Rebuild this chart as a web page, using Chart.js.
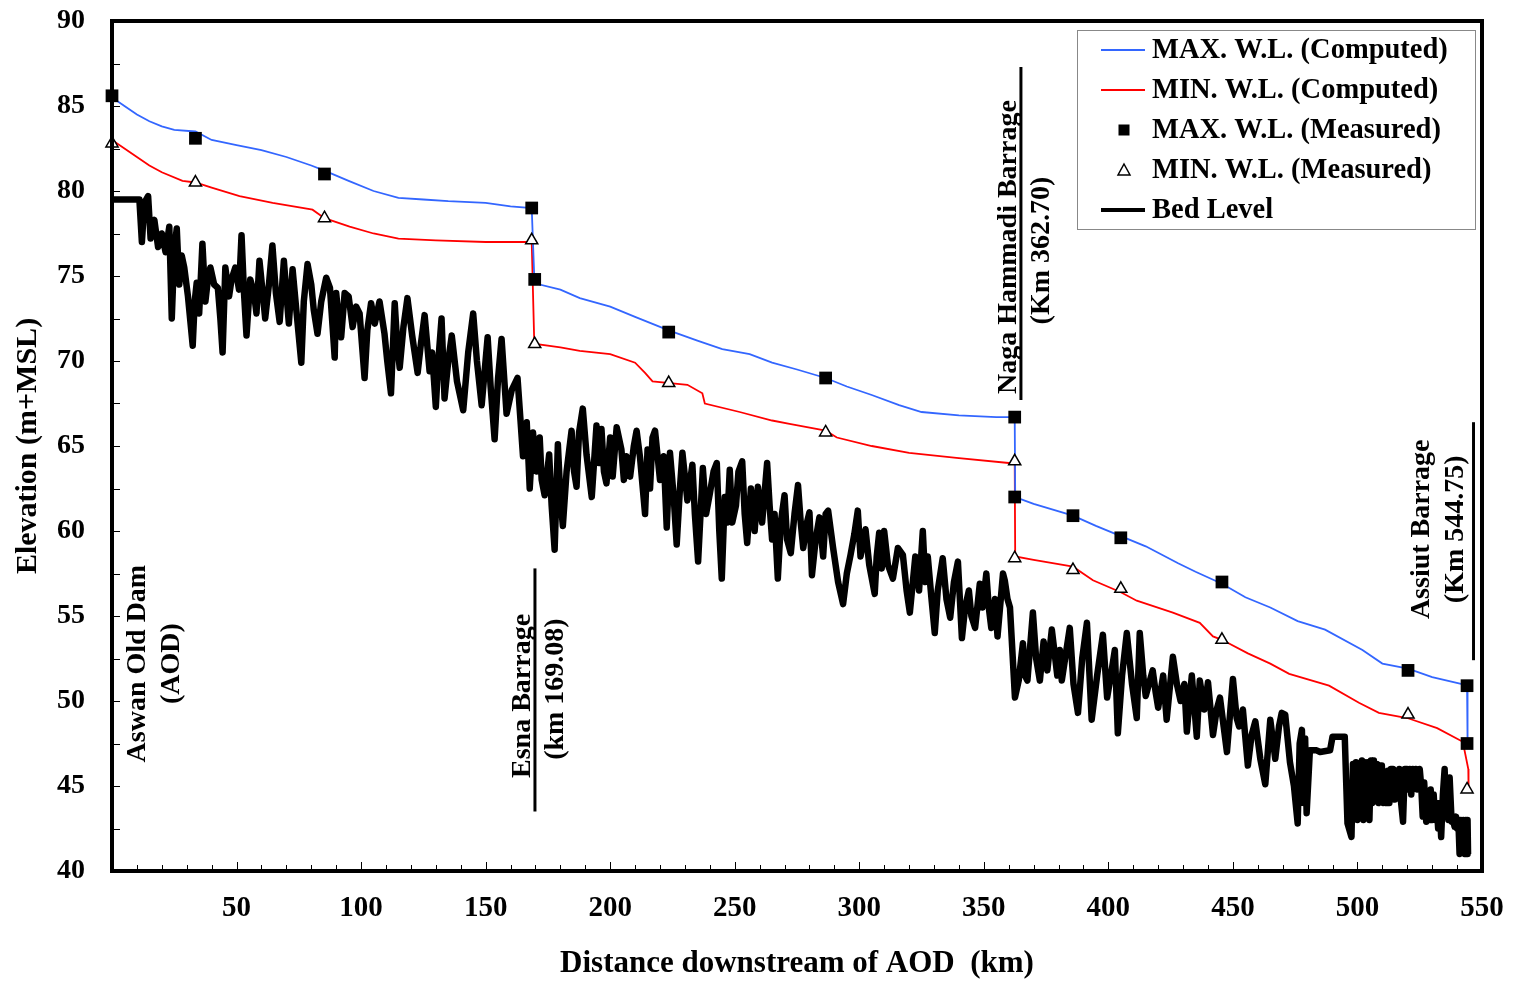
<!DOCTYPE html>
<html>
<head>
<meta charset="utf-8">
<script src="https://cdn.jsdelivr.net/npm/chart.js@4.4.0/dist/chart.umd.min.js"></script>
<style>
  html, body { margin: 0; padding: 0; background: #fff; }
  #wrap { width: 1513px; height: 984px; }
</style>
</head>
<body>
<div id="wrap"><canvas id="myChart" width="1513" height="984"></canvas></div>
<script>
// measured stations (km downstream of AOD)
const measuredKm = [0, 33.5, 85.3, 168.5, 169.7, 223.5, 286.5, 362.4, 362.4, 385.8, 405, 445.6, 520.3, 544, 544];
const measuredMax = [85.6, 83.1, 81.0, 79.0, 74.8, 71.7, 69.0, 66.7, 62.0, 60.9, 59.6, 57.0, 51.8, 50.9, 47.5];
const measuredMin = [82.8, 80.5, 78.4, 77.1, 71.0, 68.7, 65.8, 64.1, 58.4, 57.7, 56.6, 53.6, 49.2, 44.8, null];

// computed water levels [km, elevation]
const computedMax = [
  [0, 85.5], [5, 85.0], [10, 84.5], [15, 84.1], [20, 83.8], [25, 83.6], [33.5, 83.5], [40, 83.0],
  [50, 82.7], [60, 82.4], [70, 82.0], [80, 81.5], [85.3, 81.2], [95, 80.6], [105, 80.0], [115, 79.6],
  [125, 79.5], [135, 79.4], [150, 79.3], [160, 79.1], [168.5, 79.0], [169.5, 75.0], [171.7, 74.5],
  [180, 74.2], [187.8, 73.7], [200, 73.2], [210, 72.6], [223.5, 71.8], [235, 71.2], [245, 70.7],
  [256, 70.4], [265, 69.9], [275, 69.5], [286.5, 69.0], [295, 68.5], [305, 68.0], [316, 67.4],
  [325, 67.0], [340, 66.8], [355, 66.7], [362.4, 66.7], [362.6, 62.0], [370, 61.6], [385.8, 60.9],
  [395, 60.3], [405, 59.7], [415, 59.1], [428, 58.1], [435, 57.6], [445.6, 56.9], [455, 56.1],
  [465, 55.5], [476, 54.7], [487, 54.2], [502, 53.0], [510, 52.2], [520.3, 51.9], [530, 51.4],
  [542, 51.0], [544, 50.9], [544.2, 47.6]
];
const computedMin = [
  [0, 83.0], [5, 82.5], [10, 82.0], [15, 81.5], [20, 81.1], [28.3, 80.6], [33.5, 80.5], [40, 80.2],
  [51.2, 79.7], [64.5, 79.3], [80.5, 78.9], [85.3, 78.4], [95.4, 77.9], [105, 77.5], [115, 77.2],
  [130, 77.1], [150, 77.0], [168.5, 77.0], [169.5, 71.2], [170, 71.0], [180, 70.8], [187.8, 70.6],
  [200, 70.4], [210, 69.9], [214, 69.3], [217, 68.8], [224, 68.7], [231, 68.6], [237, 68.1],
  [238, 67.5], [252, 67.0], [265, 66.5], [272, 66.3], [286.5, 65.9], [291, 65.5], [305, 65.0],
  [320, 64.6], [339, 64.3], [360, 64.0], [362.4, 64.0], [362.6, 58.5], [370, 58.3], [385.8, 57.9],
  [393.8, 57.1], [405, 56.4], [411.4, 55.9], [425.9, 55.2], [436.7, 54.6], [442, 53.8], [445.6, 53.6],
  [456, 52.8], [465, 52.2], [472.6, 51.6], [488.6, 50.9], [500.6, 49.9], [508.6, 49.3], [520, 49.0],
  [532, 48.4], [542.3, 47.6], [544.5, 46.0], [544.6, 44.8]
];

// bed level [km, elevation]
const bedLevel = [
  [0, 79.5], [11, 79.5], [12, 77.0], [13, 79.3], [14.5, 79.7], [15.5, 77.2], [17, 78.3], [18.5, 76.7],
  [20, 77.5], [21.5, 76.4], [23, 77.9], [24, 72.5], [25, 76.5], [26, 77.8], [27, 74.5], [28, 76.2],
  [29, 75.5], [30.5, 73.8], [32.4, 70.9], [33.2, 73.5], [34, 74.6], [35, 72.8], [36.3, 76.9],
  [37.5, 73.5], [38.5, 74.8], [39.5, 75.5], [41, 74.5], [42.5, 74.3], [43.5, 72.5], [44.4, 70.5],
  [45.5, 75.5], [47, 73.8], [48, 74.8], [49.5, 75.5], [51, 74.2], [52, 77.4], [53, 74.0], [54, 71.5],
  [55.5, 74.8], [57, 74.0], [58, 72.8], [59.2, 75.9], [60.5, 74.0], [61.5, 72.5], [63, 74.5],
  [64.4, 76.8], [65.8, 74.0], [67.3, 72.3], [69, 75.9], [70, 74.0], [71, 72.2], [72.5, 75.4],
  [74, 73.0], [76, 69.9], [77, 73.5], [78.5, 75.7], [80, 74.5], [81, 73.0], [82.5, 71.6], [84, 73.5],
  [86, 74.9], [87.5, 74.3], [89.4, 70.2], [90, 74.0], [91, 72.5], [92, 71.4], [93.4, 74.0],
  [95, 73.8], [96.6, 72.0], [98, 73.2], [99.4, 72.8], [101.4, 69.0], [102.5, 71.8], [104, 73.4],
  [105.5, 72.2], [107.4, 73.5], [109.4, 71.6], [110.5, 70.0], [112, 68.1], [113.5, 73.4],
  [114.5, 71.0], [115.5, 69.6], [117, 72.0], [118.6, 73.7], [120.5, 71.5], [122.7, 69.3],
  [124, 71.0], [125.5, 72.7], [127.5, 69.4], [128.5, 70.5], [130, 67.3], [131, 70.0], [132.3, 72.5],
  [133.5, 67.8], [135, 70.0], [136.4, 71.5], [138.5, 68.8], [141, 67.1], [143, 70.5], [145, 72.8],
  [146.5, 70.0], [148.4, 67.4], [150.8, 71.4], [152, 68.5], [153.6, 65.4], [155, 69.0],
  [156.4, 71.3], [158.4, 66.9], [160.5, 68.3], [162.8, 69.0], [164, 66.5], [165, 64.4],
  [166.5, 66.4], [167.7, 62.5], [169, 65.8], [170.5, 63.5], [171.7, 65.5], [172.5, 63.0],
  [173.7, 62.1], [175.5, 64.5], [176.5, 61.5], [177.7, 58.9], [179, 65.1], [180, 62.0], [181, 60.3],
  [182.5, 63.5], [184.5, 65.9], [185.5, 63.5], [186.5, 62.6], [187.5, 65.8], [189, 67.2],
  [190.5, 64.5], [192.6, 62.0], [194.5, 66.2], [195.5, 64.0], [196.5, 66.0], [197.5, 63.5],
  [198.5, 62.8], [200, 65.5], [201, 63.2], [202.6, 66.1], [204.5, 64.8], [205.5, 63.0],
  [206.5, 64.4], [208, 63.2], [209.5, 65.0], [210.6, 65.9], [212, 64.3], [214, 61.0], [215, 64.8],
  [216, 62.5], [217, 65.5], [218, 65.9], [220, 63.0], [221.5, 64.4], [222.7, 60.2], [224, 64.6],
  [225.5, 62.0], [226.7, 59.2], [228, 62.5], [229, 64.6], [231, 61.8], [233, 63.9], [234, 61.0],
  [235.3, 58.2], [237.2, 63.7], [238.5, 61.0], [240, 62.2], [241.5, 63.5], [242.8, 64.0],
  [243.8, 60.0], [244.8, 57.2], [246, 62.0], [247, 60.5], [248, 63.6], [249, 60.5], [250.5, 61.5],
  [251.5, 63.5], [253, 64.1], [254, 61.0], [255, 59.3], [256.5, 62.5], [258, 60.0], [259.3, 62.6],
  [261, 60.5], [263, 64.0], [264, 61.5], [265, 59.5], [266, 61.0], [267.3, 57.2], [268.5, 60.5],
  [270, 62.1], [271, 59.5], [272.5, 58.7], [274, 61.0], [275.4, 62.7], [276.5, 60.5], [277.5, 59.0],
  [279, 60.5], [280, 61.1], [281, 57.4], [282.5, 59.5], [284, 60.8], [285.5, 58.5], [286.5, 61.0],
  [287.5, 61.2], [289.5, 59.0], [291.5, 57.0], [293.5, 55.7], [295, 57.5], [296.5, 58.6],
  [298, 59.8], [299.4, 61.2], [300.5, 58.5], [302.5, 60.1], [304, 58.0], [306.2, 56.3], [307, 58.5],
  [308, 59.9], [309, 57.8], [310, 60.0], [311.5, 58.0], [313.5, 57.2], [315.5, 59.0], [317.5, 58.6],
  [319, 56.5], [320.3, 55.2], [321.5, 57.0], [322.5, 58.5], [324, 56.5], [325.5, 60.0], [326.5, 57.0],
  [327.5, 58.5], [329, 56.0], [330.3, 54.0], [331.5, 56.5], [333.5, 58.4], [335, 56.0], [336.5, 54.9],
  [338, 57.0], [339.6, 58.2], [341.2, 53.7], [342.5, 55.5], [344, 56.5], [345, 55.0], [346.5, 54.3],
  [348.4, 56.9], [349.5, 55.5], [351, 57.5], [352, 55.5], [353, 54.3], [354.5, 56.0], [355.5, 53.8],
  [357.7, 57.5], [358.4, 57.1], [359.5, 56.0], [360.5, 55.5], [362.5, 50.2], [364, 51.2],
  [365.7, 53.4], [366.5, 51.5], [367.5, 51.2], [369.7, 55.2], [371, 52.5], [372.5, 51.2],
  [374, 53.5], [375.5, 51.8], [377.3, 54.2], [379.5, 51.5], [380.5, 53.0], [381.3, 51.2],
  [384.5, 54.3], [386, 51.0], [387.8, 49.3], [389.5, 52.5], [391.4, 54.6], [393.3, 48.9],
  [395.5, 51.5], [397.8, 53.9], [399.5, 50.2], [401, 51.5], [402.6, 53.0], [403.8, 48.1],
  [405.5, 51.5], [407.4, 54.0], [409.5, 51.0], [411.4, 49.0], [412.6, 54.0], [414, 51.5],
  [415, 50.3], [417.8, 51.8], [419, 50.5], [420, 49.6], [422, 51.5], [423.4, 48.9], [425.9, 52.6],
  [427.5, 51.0], [429, 50.0], [430.5, 51.0], [431.5, 48.2], [433.5, 51.5], [435.5, 47.9],
  [436.7, 51.2], [438.5, 49.5], [440, 51.1], [442, 48.0], [443.5, 49.5], [444.8, 50.2],
  [447.6, 47.0], [450, 51.3], [451.5, 49.0], [452.5, 48.5], [454, 49.5], [456, 46.2], [457.5, 48.0],
  [459, 48.8], [461, 46.6], [463, 45.1], [465, 48.9], [467, 46.6], [468.5, 48.5], [469.6, 49.3],
  [471, 49.2], [472.9, 46.4], [474.5, 45.0], [476, 42.8], [476.8, 47.5], [477.7, 48.3],
  [478.4, 44.0], [479, 47.8], [479.6, 43.4], [480.9, 47.1], [483.6, 47.1], [485, 47.0], [489, 47.1],
  [490, 47.9], [494.9, 47.9], [496, 42.8], [497.6, 42.0], [498.2, 46.3], [498.8, 43.2],
  [499.4, 46.4], [500, 43.0], [500.6, 46.2], [501.2, 43.5], [501.8, 46.5], [502.4, 43.0],
  [503, 46.4], [503.6, 44.0], [504.2, 46.4], [504.8, 43.0], [505.4, 46.5], [506, 44.0],
  [506.6, 46.5], [507.2, 44.5], [507.8, 46.3], [508.4, 44.0], [509, 46.2], [509.8, 46.2],
  [510.3, 44.0], [511, 45.8], [511.6, 44.0], [512.2, 45.9], [512.8, 44.0], [513.4, 46.0],
  [514.3, 46.0], [515, 44.2], [515.6, 45.9], [516.2, 44.5], [516.8, 46.0], [517.4, 44.2],
  [518.3, 42.9], [519, 46.0], [519.9, 46.0], [520.5, 44.8], [521, 46.0], [521.6, 44.5], [522.2, 46.0],
  [522.8, 45.0], [523.4, 46.0], [524, 44.8], [525, 46.0], [525.6, 45.0], [526.2, 43.2], [526.8, 45.2],
  [527.6, 42.9], [528.2, 44.5], [528.8, 43.0], [529.4, 44.8], [530, 43.0], [530.6, 44.5],
  [531.2, 43.0], [531.8, 44.0], [532.4, 42.5], [533, 44.0], [533.6, 42.0], [534.3, 44.5], [535, 46.0],
  [535.5, 43.2], [536, 45.5], [536.5, 43.0], [537, 45.5], [537.8, 42.9], [538.4, 43.0], [539, 42.6],
  [539.6, 43.2], [540, 42.5], [540.5, 43.0], [541, 41.0], [541.5, 43.0], [542, 41.2], [542.5, 43.0],
  [543, 41.0], [543.5, 43.0], [544, 41.0], [544.2, 43.0], [544.4, 41.0]
];

const xTicks = [50, 100, 150, 200, 250, 300, 350, 400, 450, 500, 550];
const yTicks = [40, 45, 50, 55, 60, 65, 70, 75, 80, 85, 90];

const seriesNames = ["MAX. W.L. (Computed)", "MIN. W.L. (Computed)", "MAX. W.L. (Measured)", "MIN. W.L. (Measured)", "Bed Level"];

// barrage labels
const siteNames = ["Aswan Old Dam", "Esna Barrage", "Naga Hammadi Barrage", "Assiut Barrage"];
const siteKmText = ["(AOD)", "(km 169.08)", "(Km 362.70)", "(Km 544.75)"];

// where the labels sit, in chart units
const siteLabelPos = [
  { name: [10.4, 52.2], sub: [24.1, 52.2], line: null },
  { name: [165.0, 50.3], sub: [178.3, 50.7], line: [169.8, 57.8, 43.5] },
  { name: [360.1, 76.7], sub: [373.4, 76.5], line: [364.9, 87.3, 67.7] },
  { name: [525.9, 60.1], sub: [539.5, 60.1], line: [546.6, 66.4, 52.4] }
];

const FONT = "'Liberation Serif', 'Times New Roman', serif";
const BLUE = "rgb(51,102,255)";
const RED = "rgb(255,0,0)";

const toXY = arr => arr.map(p => ({ x: p[0], y: p[1] }));

// keep tick labels from pushing the plot area inwards
const noLabelPadding = s => { s.paddingTop = 0; s.paddingBottom = 0; s.paddingLeft = 0; s.paddingRight = 0; };

const decorPlugin = {
  id: "decor",
  afterDatasetsDraw(chart) {
    const ctx = chart.ctx;
    const xs = chart.scales.x, ys = chart.scales.y;
    const a = chart.chartArea;
    ctx.save();

    // inside ticks
    ctx.strokeStyle = "#000";
    ctx.lineWidth = 1;
    for (let v = 10; v < 550; v += 10) {
      const px = Math.round(xs.getPixelForValue(v)) + 0.5;
      const len = v % 50 === 0 ? 9 : 6;
      ctx.beginPath();
      ctx.moveTo(px, a.bottom);
      ctx.lineTo(px, a.bottom - len);
      ctx.stroke();
    }
    for (let v = 42.5; v < 90; v += 2.5) {
      const py = Math.round(ys.getPixelForValue(v)) + 0.5;
      ctx.beginPath();
      ctx.moveTo(a.left, py);
      ctx.lineTo(a.left + 8, py);
      ctx.stroke();
    }

    // frame
    ctx.lineWidth = 4;
    ctx.strokeRect(a.left, a.top, a.right - a.left, a.bottom - a.top);

    // barrage lines and labels
    ctx.fillStyle = "#000";
    ctx.font = "bold 28px " + FONT;
    ctx.textAlign = "center";
    ctx.textBaseline = "middle";
    siteLabelPos.forEach((s, i) => {
      if (s.line) {
        const lx = xs.getPixelForValue(s.line[0]);
        ctx.lineWidth = 3;
        ctx.beginPath();
        ctx.moveTo(lx, ys.getPixelForValue(s.line[1]));
        ctx.lineTo(lx, ys.getPixelForValue(s.line[2]));
        ctx.stroke();
      }
      [[s.name, siteNames[i]], [s.sub, siteKmText[i]]].forEach(([pos, txt]) => {
        ctx.save();
        ctx.translate(xs.getPixelForValue(pos[0]), ys.getPixelForValue(pos[1]));
        ctx.rotate(-Math.PI / 2);
        ctx.fillText(txt, 0, 0);
        ctx.restore();
      });
    });

    // legend box
    const lx0 = a.right - 405, ly0 = a.top + 9;
    ctx.fillStyle = "#fff";
    ctx.fillRect(lx0, ly0, 398, 199);
    ctx.strokeStyle = "#888";
    ctx.lineWidth = 1;
    ctx.strokeRect(lx0 + 0.5, ly0 + 0.5, 398, 199);
    ctx.font = "bold 28.5px " + FONT;
    ctx.textAlign = "left";
    ctx.textBaseline = "middle";
    seriesNames.forEach((name, i) => {
      const y = ly0 + 20 + i * 40;
      const sx0 = lx0 + 24, sx1 = lx0 + 68, cx = lx0 + 47;
      if (i === 0 || i === 1 || i === 4) {
        ctx.strokeStyle = i === 0 ? BLUE : i === 1 ? RED : "#000";
        ctx.lineWidth = i === 4 ? 4 : 2;
        ctx.beginPath();
        ctx.moveTo(sx0, y);
        ctx.lineTo(sx1, y);
        ctx.stroke();
      } else if (i === 2) {
        ctx.fillStyle = "#000";
        ctx.fillRect(cx - 5.5, y - 5.5, 11, 11);
      } else {
        ctx.strokeStyle = "#000";
        ctx.lineWidth = 1.5;
        ctx.beginPath();
        ctx.moveTo(cx, y - 6);
        ctx.lineTo(cx + 6, y + 5);
        ctx.lineTo(cx - 6, y + 5);
        ctx.closePath();
        ctx.stroke();
      }
      ctx.fillStyle = "#000";
      ctx.fillText(name, lx0 + 75, y + 1);
    });

    ctx.restore();
  }
};

const ctx = document.getElementById("myChart").getContext("2d");
const myChart = new Chart(ctx, {
  type: "line",
  data: {
    datasets: [
      {
        label: seriesNames[2],
        data: measuredKm.map((k, i) => ({ x: k, y: measuredMax[i] })),
        showLine: false,
        pointStyle: "rect",
        pointRadius: 9,
        pointBackgroundColor: "#000",
        pointBorderColor: "#000",
        pointBorderWidth: 0,
        clip: false
      },
      {
        label: seriesNames[3],
        data: measuredKm.map((k, i) => ({ x: k, y: measuredMin[i] })).filter(p => p.y !== null),
        showLine: false,
        pointStyle: "triangle",
        pointRadius: 7,
        pointBackgroundColor: "#fff",
        pointBorderColor: "#000",
        pointBorderWidth: 1.5,
        clip: false
      },
      {
        label: seriesNames[0],
        data: toXY(computedMax),
        borderColor: BLUE,
        borderWidth: 1.8,
        pointRadius: 0,
        tension: 0
      },
      {
        label: seriesNames[1],
        data: toXY(computedMin),
        borderColor: RED,
        borderWidth: 1.8,
        pointRadius: 0,
        tension: 0
      },
      {
        label: seriesNames[4],
        data: toXY(bedLevel),
        borderColor: "#000",
        borderWidth: 6.5,
        pointRadius: 0,
        tension: 0,
        borderJoinStyle: "round"
      }
    ]
  },
  options: {
    responsive: false,
    animation: false,
    layout: { padding: { top: 21, right: 31, left: 0, bottom: 0 }, autoPadding: false },
    plugins: {
      legend: { display: false },
      tooltip: { enabled: false }
    },
    scales: {
      x: {
        type: "linear",
        min: 0,
        max: 550,
        afterBuildTicks: s => { s.ticks = xTicks.map(v => ({ value: v })); },
        ticks: {
          color: "#000",
          padding: 20,
          maxRotation: 0,
          font: { family: FONT, size: 29, weight: "bold" }
        },
        grid: { display: false, drawTicks: false },
        border: { display: false },
        title: {
          display: true,
          text: "Distance downstream of AOD  (km)",
          color: "#000",
          padding: { top: 0, bottom: 1 },
          font: { family: FONT, size: 31, weight: "bold" }
        },
        afterFit: s => { s.height = 113; noLabelPadding(s); }
      },
      y: {
        type: "linear",
        min: 40,
        max: 90,
        afterBuildTicks: s => { s.ticks = yTicks.map(v => ({ value: v })); },
        ticks: {
          color: "#000",
          padding: 27,
          font: { family: FONT, size: 28, weight: "bold" }
        },
        grid: { display: false, drawTicks: false },
        border: { display: false },
        title: {
          display: true,
          text: "Elevation (m+MSL)",
          color: "#000",
          padding: { top: 10, bottom: 0 },
          font: { family: FONT, size: 30, weight: "bold" }
        },
        afterFit: s => { s.width = 112; noLabelPadding(s); }
      }
    }
  },
  plugins: [decorPlugin]
});
</script>
</body>
</html>
